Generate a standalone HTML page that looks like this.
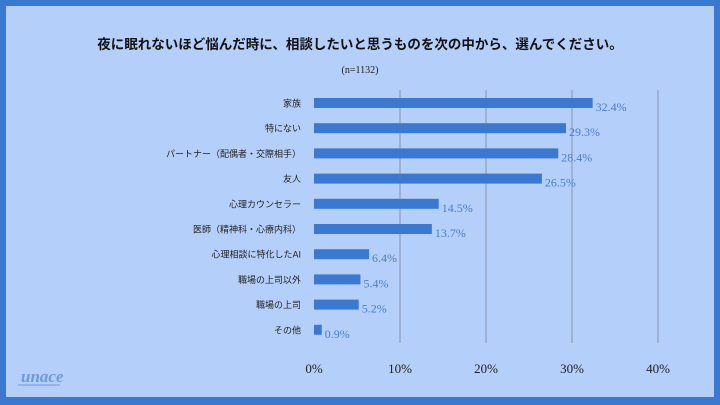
<!DOCTYPE html>
<html><head><meta charset="utf-8"><style>
body{margin:0;width:720px;height:405px;background:#3b78cf;overflow:hidden}
#panel{position:absolute;left:6px;top:6px;width:708px;height:391px;background:#b4cffa}
text{font-family:"Liberation Sans","Noto Sans CJK JP",sans-serif}
</style></head><body>
<div id="panel"></div>
<svg id="c" width="720" height="405" style="position:absolute;left:0;top:0">
<text x="360" y="49" text-anchor="middle" font-size="13.5" font-weight="bold" fill="#111">夜に眠れないほど悩んだ時に、相談したいと思うものを次の中から、選んでください。</text>
<text x="360" y="73" text-anchor="middle" font-size="10" fill="#222" style="font-family:'Liberation Serif',serif">(n=1132)</text>
<text x="21" y="382" font-size="17" font-style="italic" font-weight="bold" fill="#6f9ad8" style="font-family:'Liberation Serif',serif">unace</text>
<line x1="18" y1="385" x2="60" y2="385" stroke="#6f9ad8" stroke-width="1"/>
<g id="g"></g>
</svg>
<script>
const categories=["家族","特にない","パートナー（配偶者・交際相手）","友人","心理カウンセラー","医師（精神科・心療内科）","心理相談に特化したAI","職場の上司以外","職場の上司","その他"];
const values=[32.4,29.3,28.4,26.5,14.5,13.7,6.4,5.4,5.2,0.9];
const ticks=[0,10,20,30,40];
const NS="http://www.w3.org/2000/svg";
const g=document.getElementById('g');
const x=v=>314+v*8.6;
const y=i=>103+i*25.2;
function el(t,a){const e=document.createElementNS(NS,t);for(const k in a)e.setAttribute(k,a[k]);g.appendChild(e);return e;}
ticks.forEach(t=>{
 if(t>0){const l=el('line',{x1:x(t),x2:x(t),y1:90,y2:343,stroke:'#7a8799','stroke-width':0.8});
 
 }
 const tx=el('text',{x:x(t),y:373,'text-anchor':'middle','font-size':13,fill:'#222',style:"font-family:'Liberation Serif',serif"});
 tx.textContent=t+'%';
 
 
});
categories.forEach((c,i)=>{
 const lb=el('text',{x:301,y:y(i)+3.5,'text-anchor':'end','font-size':9,fill:'#222'});
 lb.textContent=c;
 
 
 const b=el('rect',{x:x(0),y:y(i)-5,width:x(values[i])-x(0),height:10,fill:'#3b78cf'});
 
 
 const v=el('text',{x:x(values[i])+3,y:y(i)+8,'font-size':12,fill:'#4a7fc8',style:"font-family:'Liberation Serif',serif"});
 v.textContent=values[i].toFixed(1)+'%';
 
 
});
</script>
</body></html>
